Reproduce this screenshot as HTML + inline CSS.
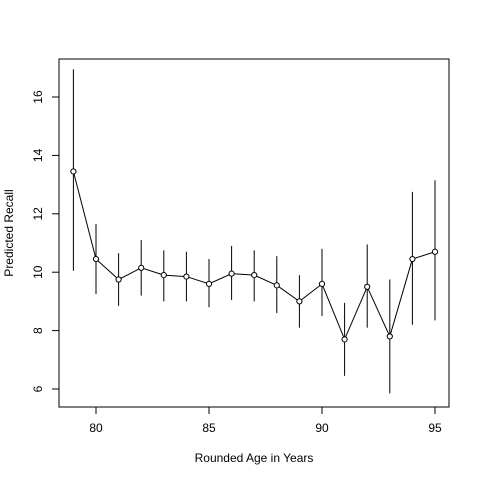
<!DOCTYPE html>
<html><head><meta charset="utf-8"><style>
html,body{margin:0;padding:0;background:#fff;}
svg{display:block;font-family:"Liberation Sans",Arial,sans-serif;}
</style></head><body>
<svg id="chart" width="480" height="480" viewBox="0 0 480 480">
<rect x="59" y="59" width="390" height="348" fill="none" stroke="#000"/>
<g id="xaxis"></g>
<g id="yaxis"></g>
<g id="bars"></g>
<g id="series"></g>
<text x="254" y="462" font-size="12" text-anchor="middle" fill="#000">Rounded Age in Years</text>
<text x="13" y="233" font-size="12" text-anchor="middle" fill="#000" transform="rotate(-90 13 233)">Predicted Recall</text>
</svg>
<script>
const ages = [79,80,81,82,83,84,85,86,87,88,89,90,91,92,93,94,95];
const means = [13.45,10.45,9.75,10.15,9.9,9.85,9.6,9.95,9.9,9.55,9.0,9.6,7.7,9.5,7.8,10.45,10.7];
const lowers = [10.05,9.25,8.85,9.2,9.0,9.0,8.8,9.05,9.0,8.6,8.1,8.5,6.45,8.1,5.85,8.2,8.35];
const uppers = [16.95,11.65,10.65,11.1,10.75,10.7,10.45,10.9,10.75,10.55,9.9,10.8,8.95,10.95,9.75,12.75,13.15];
const xTicks = [80,85,90,95];
const yTicks = [6,8,10,12,14,16];

const NS = "http://www.w3.org/2000/svg";
const X = v => 96 + (v - 80) * (339 / 15);
const Y = v => 389 - (v - 6) * (292 / 10);
function mk(tag, attrs, parent){const e=document.createElementNS(NS,tag);for(const k in attrs)e.setAttribute(k,attrs[k]);parent.appendChild(e);return e;}

const xa = document.getElementById('xaxis');
mk('line',{x1:X(80),x2:X(95),y1:407,y2:407,stroke:'#000'},xa);
xTicks.forEach(t=>{
  const l=mk('line',{x1:X(t),x2:X(t),y1:407,y2:414,stroke:'#000'},xa);
  
  
  const tx=mk('text',{x:X(t),y:432,'font-size':12,'text-anchor':'middle'},xa);
  tx.textContent=t;
  
  
});
const ya = document.getElementById('yaxis');
mk('line',{x1:59,x2:59,y1:Y(6),y2:Y(16),stroke:'#000'},ya);
yTicks.forEach(t=>{
  const l=mk('line',{x1:52,x2:59,y1:Y(t),y2:Y(t),stroke:'#000'},ya);
  
  
  const tx=mk('text',{x:42,y:Y(t),'font-size':12,'text-anchor':'middle',transform:`rotate(-90 42 ${Y(t)})`},ya);
  tx.textContent=t;
  
  
});
const bars=document.getElementById('bars');
ages.forEach((a,i)=>{
  const l=mk('line',{x1:X(a),x2:X(a),y1:Y(lowers[i]),y2:Y(uppers[i]),stroke:'#000'},bars);
  
  
});
const s=document.getElementById('series');
const pts=ages.map((a,i)=>X(a)+','+Y(means[i])).join(' ');
mk('polyline',{points:pts,fill:'none',stroke:'#000'},s);
ages.forEach((a,i)=>{
  const c=mk('circle',{cx:X(a),cy:Y(means[i]),r:2.6,fill:'#fff',stroke:'#000'},s);
  
  
});
</script>
</body></html>
